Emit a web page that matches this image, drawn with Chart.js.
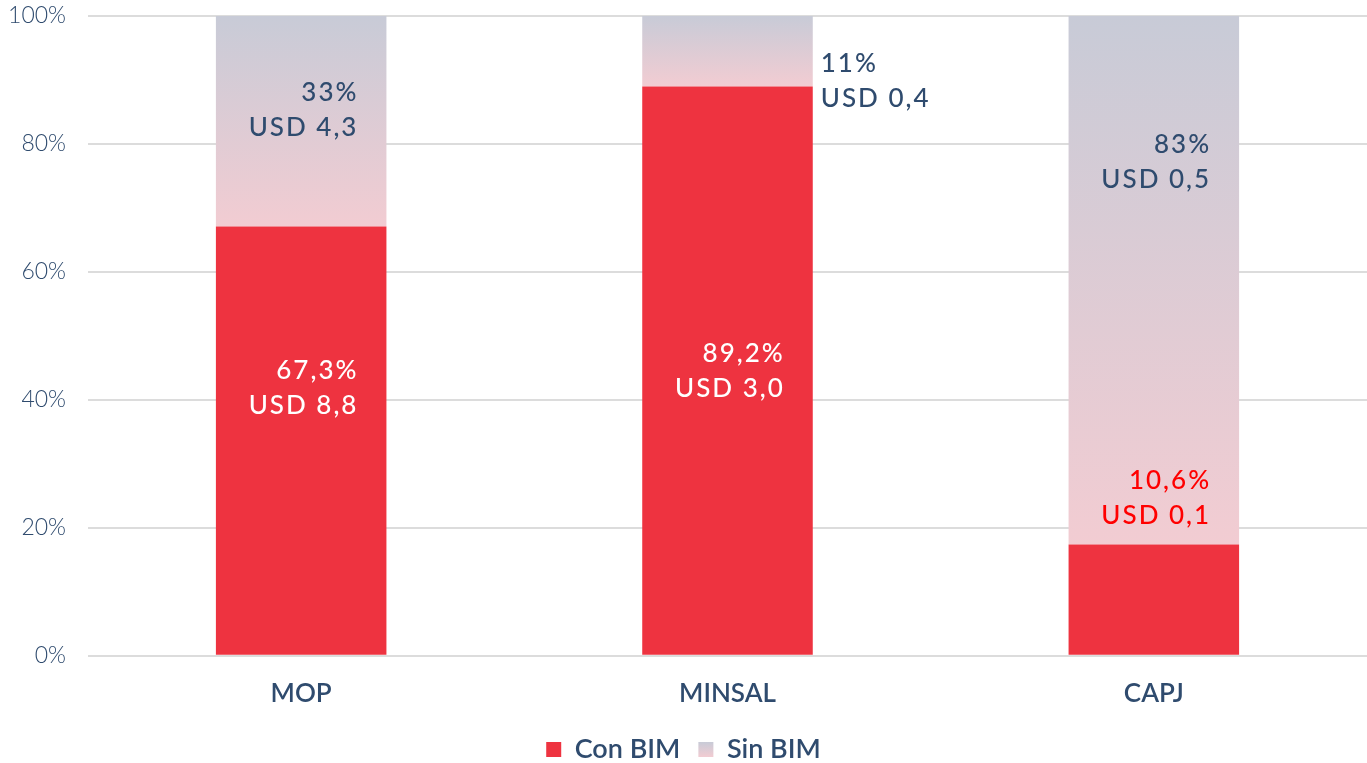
<!DOCTYPE html>
<html>
<head>
<meta charset="utf-8">
<script src="https://cdn.jsdelivr.net/npm/chart.js@4.4.1/dist/chart.umd.min.js"></script>
<style>
  html, body { margin: 0; padding: 0; background: #fff; }
  #wrap { width: 1367px; height: 763px; position: relative; }
</style>
</head>
<body>
<div id="wrap"><canvas id="bim-chart"></canvas></div>
<script>
// datos
const categories = ['MOP', 'MINSAL', 'CAPJ'];
const conBim = [67.1, 89.0, 17.4];
const sinBim = [32.9, 11.0, 82.6];
const conLabels = [['67,3%', 'USD 8,8'], ['89,2%', 'USD 3,0'], ['10,6%', 'USD 0,1']];
const sinLabels = [['33%', 'USD 4,3'], ['11%', 'USD 0,4'], ['83%', 'USD 0,5']];
const yTicks = [0, 20, 40, 60, 80, 100];

// donde van las etiquetas (en % del eje)
const conLabelAt = [41.9, 44.5, 24.7];
const sinLabelAt = [85.3, 89.8, 77.1];
const sinOutside = [false, true, false];
const conLabelColor = ['#ffffff', '#ffffff', '#ff0000'];

const RED = '#ee3340';
const NAVY = '#2f4b6e';
const GREY_TOP = '#c8cbd7';
const PINK_BOTTOM = '#f2ccd2';
const FONT = 'Lato, "Noto Sans", sans-serif';

function sinGradient(ctx) {
    const chart = ctx.chart;
    if (!chart.chartArea) return PINK_BOTTOM;
    const y = chart.scales.y;
    const i = ctx.dataIndex;
    const top = y.getPixelForValue(100);
    const bottom = y.getPixelForValue(conBim[i]);
    const g = chart.ctx.createLinearGradient(0, top, 0, bottom);
    g.addColorStop(0, GREY_TOP);
    g.addColorStop(1, PINK_BOTTOM);
    return g;
}

// Plugin: etiquetas de las barras
const barLabelPlugin = {
    id: 'barLabelPlugin',
    afterDatasetsDraw(chart) {
        const { ctx } = chart;
        const y = chart.scales.y;
        const lineGap = 35;
        ctx.save();
        ctx.font = '500 26px ' + FONT;
        ctx.textBaseline = 'middle';
        if ('letterSpacing' in ctx) ctx.letterSpacing = '2px';
        const draw = (lines, x, yc, align, color) => {
            ctx.fillStyle = color;
            ctx.textAlign = align;
            lines.forEach((t, k) => {
                ctx.fillText(t, x, yc + (k - (lines.length - 1) / 2) * lineGap);
            });
        };
        const conMeta = chart.getDatasetMeta(0);
        const sinMeta = chart.getDatasetMeta(1);
        categories.forEach((c, i) => {
            const bar = conMeta.data[i];
            const right = bar.x + bar.width / 2;
            draw(conLabels[i], right - 28, y.getPixelForValue(conLabelAt[i]), 'right', conLabelColor[i]);
            const sb = sinMeta.data[i];
            const sRight = sb.x + sb.width / 2;
            if (sinOutside[i]) {
                draw(sinLabels[i], sRight + 8, y.getPixelForValue(sinLabelAt[i]), 'left', NAVY);
            } else {
                draw(sinLabels[i], sRight - 28, y.getPixelForValue(sinLabelAt[i]), 'right', NAVY);
            }
        });
        ctx.restore();
    }
};

// Plugin: cuadro degradado en la leyenda
const legendGradientPlugin = {
    id: 'legendGradientPlugin',
    afterDraw(chart) {
        const legend = chart.legend;
        if (!legend || !legend.legendHitBoxes || legend.legendHitBoxes.length < 2) return;
        const box = legend.legendHitBoxes[1];
        const size = 15;
        const top = box.top + (box.height - size) / 2;
        const ctx = chart.ctx;
        const g = ctx.createLinearGradient(0, top, 0, top + size);
        g.addColorStop(0, GREY_TOP);
        g.addColorStop(1, PINK_BOTTOM);
        ctx.save();
        ctx.fillStyle = '#ffffff';
        ctx.fillRect(box.left - 1, top - 1, size + 2, size + 2);
        ctx.fillStyle = g;
        ctx.fillRect(box.left, top, size, size);
        ctx.restore();
    }
};

const chart = new Chart(document.getElementById('bim-chart'), {
    type: 'bar',
    data: {
        labels: categories,
        datasets: [
            { label: 'Con BIM', data: conBim, backgroundColor: RED, barPercentage: 0.4, categoryPercentage: 1 },
            { label: 'Sin BIM', data: sinBim, backgroundColor: sinGradient, barPercentage: 0.4, categoryPercentage: 1 }
        ]
    },
    options: {
        responsive: true,
        maintainAspectRatio: false,
        animation: false,
        layout: { padding: { top: 16, right: 0, bottom: -10, left: 0 } },
        scales: {
            x: {
                stacked: true,
                afterFit(scale) { scale.height = scale.height - 5; },
                grid: { display: false },
                border: { display: false },
                ticks: { color: NAVY, font: { family: FONT, size: 26, weight: '600' }, padding: 14 }
            },
            y: {
                stacked: true,
                min: 0,
                max: 100,
                afterFit(scale) { scale.width = 88; scale.paddingTop = 0; },
                afterBuildTicks(scale) { scale.ticks = yTicks.map(v => ({ value: v })); },
                grid: { color: '#dcdcdc', lineWidth: 2, drawTicks: false },
                border: { display: false },
                ticks: {
                    color: NAVY,
                    padding: 22,
                    font: { family: FONT, size: 23, weight: '300' },
                    callback: v => v + '%'
                }
            }
        },
        plugins: {
            legend: {
                position: 'bottom',
                labels: {
                    color: NAVY,
                    font: { family: FONT, size: 27, weight: '600' },
                    boxWidth: 15,
                    boxHeight: 15,
                    padding: 18,
                    generateLabels(chart) {
                        return chart.data.datasets.map((d, i) => ({
                            text: d.label,
                            fillStyle: i === 0 ? RED : PINK_BOTTOM,
                            strokeStyle: 'transparent',
                            lineWidth: 0,
                            fontColor: NAVY,
                            datasetIndex: i,
                            hidden: false
                        }));
                    }
                }
            },
            tooltip: { enabled: false }
        }
    },
    plugins: [barLabelPlugin, legendGradientPlugin]
});
</script>
</body>
</html>
